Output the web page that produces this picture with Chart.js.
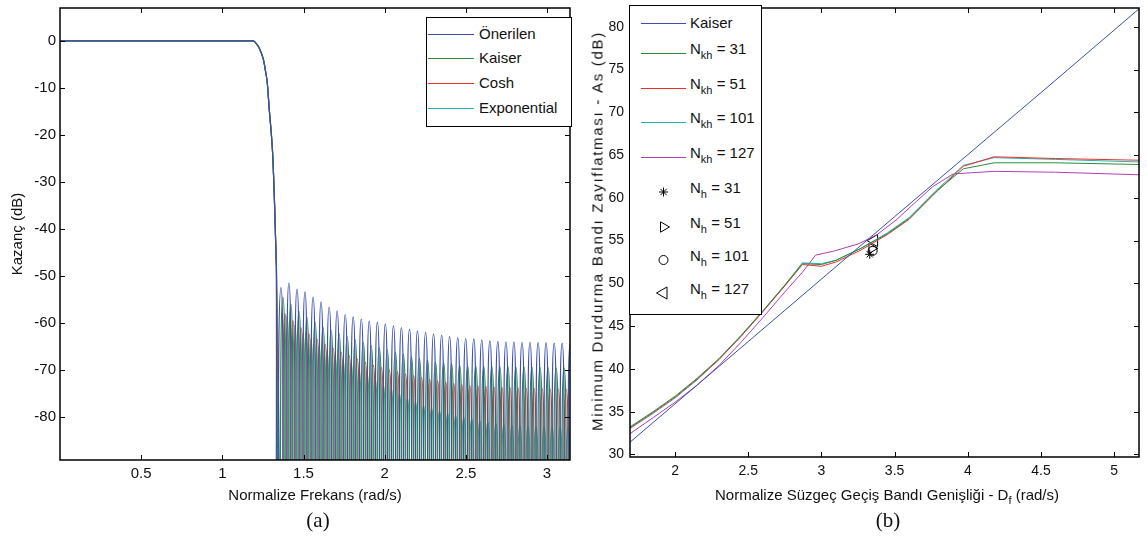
<!DOCTYPE html>
<html lang="tr">
<head>
<meta charset="utf-8">
<title>Süzgeç karşılaştırması</title>
<script src="https://cdn.jsdelivr.net/npm/chart.js@4.4.1/dist/chart.umd.min.js"></script>
<style>
  html, body { margin: 0; padding: 0; background: #fff; }
  #page { position: relative; width: 1147px; height: 543px; overflow: hidden;
          font-family: 'Liberation Sans', Arial, sans-serif; color: #111; }
  #chartA, #chartB { position: absolute; top: 0; }
  #chartA { left: 0; }
  #chartB { left: 580px; }
  .legend { position: absolute; background: #fff; border: 1px solid #000; box-sizing: border-box; }
  .legend canvas { position: absolute; }
  .legend span { position: absolute; font-size: 15px; line-height: 18px; white-space: nowrap; }
  .legend sub { font-size: 11px; vertical-align: -5px; line-height: 0; }
  #legendA { left: 426px; top: 17px; width: 146px; height: 110px; }
  #legendB { left: 629px; top: 5px; width: 133px; height: 310px; }
  .ytitle { position: absolute; left: 597px; top: 231px; font-size: 15px; letter-spacing: 1.7px;
            white-space: nowrap; transform: translate(-50%, -50%) rotate(-90deg); }
  .xtitle { position: absolute; left: 887px; top: 486px; font-size: 15px; white-space: nowrap;
            transform: translateX(-50%); }
  .xtitle sub { font-size: 11px; vertical-align: -4px; line-height: 0; }
  .caption { position: absolute; top: 508px; font-family: 'Liberation Serif', 'Times New Roman', serif;
             font-size: 21px; transform: translateX(-50%); }
</style>
</head>
<body>
<div id="page">
  <canvas id="chartA" width="580" height="520"></canvas>
  <canvas id="chartB" width="567" height="520"></canvas>
  <div id="legendA" class="legend"></div>
  <div id="legendB" class="legend"></div>
  <div class="ytitle">Minimum Durdurma Bandı Zayıflatması - As (dB)</div>
  <div class="xtitle">Normalize Süzgeç Geçiş Bandı Genişliği - D<sub>f</sub> (rad/s)</div>
  <div class="caption" style="left:318px">(a)</div>
  <div class="caption" style="left:888px">(b)</div>
</div>
<script>
// ---------- (a) genlik yanıtı ----------
const namesA = ['Önerilen', 'Kaiser', 'Cosh', 'Exponential'];
const xTicksA = [0.5, 1, 1.5, 2, 2.5, 3];
const yTicksA = [0, -10, -20, -30, -40, -50, -60, -70, -80];

// geçiş bandı (dört pencere neredeyse üst üste)
const transFreq = [0, 1.19, 1.205, 1.222, 1.238, 1.253, 1.265, 1.277, 1.29, 1.30, 1.31, 1.316, 1.322, 1.327, 1.333];
const transDb = [0, 0, -0.4, -1.2, -2.4, -4, -6.2, -9, -15, -19, -24, -29, -35, -41, -48];

// durdurma bandı frekans ızgaraları (yarım lob adımı)
const gridA = [1.336, 1.361, 1.386, 1.410, 1.435, 1.460, 1.485, 1.509, 1.534, 1.559,
  1.584, 1.608, 1.633, 1.658, 1.683, 1.707, 1.732, 1.757, 1.782, 1.806,
  1.831, 1.856, 1.881, 1.905, 1.930, 1.955, 1.980, 2.004, 2.029, 2.054,
  2.079, 2.103, 2.128, 2.153, 2.178, 2.202, 2.227, 2.252, 2.277, 2.301,
  2.326, 2.351, 2.376, 2.400, 2.425, 2.450, 2.475, 2.499, 2.524, 2.549,
  2.574, 2.598, 2.623, 2.648, 2.673, 2.697, 2.722, 2.747, 2.772, 2.796,
  2.821, 2.846, 2.871, 2.895, 2.920, 2.945, 2.970, 2.994, 3.019, 3.044,
  3.069, 3.093, 3.118, 3.143, 3.168];
const gridB = [1.348, 1.373, 1.398, 1.422, 1.447, 1.472, 1.497, 1.521, 1.546, 1.571,
  1.596, 1.620, 1.645, 1.670, 1.695, 1.719, 1.744, 1.769, 1.794, 1.818,
  1.843, 1.868, 1.893, 1.917, 1.942, 1.967, 1.992, 2.016, 2.041, 2.066,
  2.091, 2.115, 2.140, 2.165, 2.190, 2.214, 2.239, 2.264, 2.289, 2.313,
  2.338, 2.363, 2.388, 2.412, 2.437, 2.462, 2.487, 2.511, 2.536, 2.561,
  2.586, 2.610, 2.635, 2.660, 2.685, 2.709, 2.734, 2.759, 2.784, 2.808,
  2.833, 2.858, 2.883, 2.907, 2.932, 2.957, 2.982, 3.006, 3.031, 3.056,
  3.081, 3.105, 3.130, 3.155, 3.180];

// lob tepeleri (dB)
const peaksOnerilen = [-52.5, -51.5, -52.8, -53.4, -54.5, -55.5, -56.6, -57.4, -58.2, -58.7,
  -59.1, -59.6, -59.8, -60.2, -60.6, -61.0, -61.3, -61.7, -62.0, -62.3,
  -62.6, -62.9, -63.1, -63.3, -63.4, -63.6, -63.8, -63.9, -64.0, -64.0,
  -64.1, -64.1, -64.2, -64.2, -64.3, -64.3, -64.3];
const peaksKaiser = [-54.5, -56.0, -57.5, -58.8, -59.8, -60.8, -61.5, -62.2, -62.9, -63.6,
  -64.2, -64.8, -65.3, -65.7, -66.2, -66.7, -67.2, -67.6, -67.9, -68.3,
  -68.5, -68.7, -69.0, -69.1, -69.2, -69.3, -69.3, -69.3, -69.3, -69.4,
  -69.4, -69.4, -69.5, -69.5, -69.6, -69.6, -69.6];
const peaksCosh = [-58.0, -59.5, -61.0, -62.3, -63.5, -64.5, -65.4, -66.2, -67.0, -67.7,
  -68.4, -69.0, -69.5, -70.0, -70.4, -70.8, -71.2, -71.6, -72.0, -72.3,
  -72.6, -72.9, -73.1, -73.3, -73.4, -73.5, -73.6, -73.7, -73.8, -73.8,
  -73.9, -73.9, -74.0, -74.0, -74.1, -74.1, -74.1];
const peaksExp = [-58.5, -60.5, -62.2, -63.5, -64.8, -66.0, -67.0, -67.8, -68.6, -70.0,
  -71.0, -72.0, -73.2, -74.0, -75.0, -76.0, -76.8, -77.5, -78.1, -78.7,
  -79.2, -79.7, -80.1, -80.4, -80.8, -81.1, -81.4, -81.6, -81.8, -81.9,
  -82.0, -82.1, -82.1, -82.2, -82.2, -82.2, -82.2];
const nullDb = -120; // sıfır noktaları eksenin altında

// ---------- (b) durdurma bandı zayıflatması ----------
const dfKaiser = [1.69, 2.5, 3.5, 4.5, 5.17];
const asKaiser = [31.4, 43.2, 57.8, 72.3, 82.1];
const dfKh = [1.69, 1.85, 2.0, 2.15, 2.3, 2.45, 2.6, 2.75, 2.87, 3.0, 3.1, 3.27, 3.45, 3.6, 3.78, 3.97, 4.18, 4.6, 5.17];
const asKh31 = [33.2, 35.0, 36.8, 38.9, 41.2, 43.9, 46.8, 49.8, 52.3, 52.2, 52.7, 54.1, 55.8, 57.6, 60.7, 63.4, 64.1, 64.1, 63.9];
const asKh51 = [33.1, 34.9, 36.7, 38.8, 41.1, 43.8, 46.7, 49.7, 52.2, 52.0, 52.5, 53.9, 55.7, 57.5, 60.6, 63.7, 64.8, 64.6, 64.4];
const asKh101 = [33.0, 34.8, 36.6, 38.7, 41.1, 43.8, 46.7, 49.8, 52.4, 52.3, 52.7, 54.1, 55.9, 57.7, 60.8, 63.8, 64.7, 64.5, 64.2];
const dfKh127 = [1.69, 1.85, 2.0, 2.15, 2.3, 2.45, 2.6, 2.75, 2.87, 2.96, 3.09, 3.25, 3.38, 3.51, 3.65, 3.76, 3.90, 4.18, 4.6, 5.17];
const asKh127 = [32.4, 34.3, 36.1, 38.1, 40.4, 43.1, 46.0, 49.0, 51.3, 53.3, 53.8, 54.6, 55.7, 57.4, 59.6, 61.3, 62.8, 63.1, 63.0, 62.7];
const dfNh = [3.33, 3.345, 3.35, 3.36];
const asNh = [53.4, 54.1, 53.8, 55.0];
const xTicksB = [2, 2.5, 3, 3.5, 4, 4.5, 5];
const yTicksB = [30, 35, 40, 45, 50, 55, 60, 65, 70, 75, 80];

// renkler
const colBlue = '#3b4fae', colGreen = '#2b8a3f', colRed = '#ee2d2d', colCyan = '#22b2ad', colPurple = '#b23fb2';

Chart.defaults.font.family = "'Liberation Sans', Arial, sans-serif";
Chart.defaults.font.size = 15;
Chart.defaults.color = '#111';

// matlab tarzı çerçeve ve içe dönük çentikler
const boxTicks = {
  id: 'boxTicks',
  afterDatasetsDraw(chart) {
    const { ctx, chartArea: a, scales } = chart;
    const len = 5;
    ctx.save();
    ctx.strokeStyle = '#000';
    ctx.lineWidth = 1;
    ctx.beginPath();
    scales.x.ticks.forEach(t => {
      const px = Math.round(scales.x.getPixelForValue(t.value)) + 0.5;
      ctx.moveTo(px, a.bottom); ctx.lineTo(px, a.bottom - len);
      ctx.moveTo(px, a.top); ctx.lineTo(px, a.top + len);
    });
    scales.y.ticks.forEach(t => {
      const py = Math.round(scales.y.getPixelForValue(t.value)) + 0.5;
      ctx.moveTo(a.left, py); ctx.lineTo(a.left + len, py);
      ctx.moveTo(a.right, py); ctx.lineTo(a.right - len, py);
    });
    ctx.stroke();
    ctx.lineWidth = 1.5;
    ctx.strokeRect(a.left, a.top, a.right - a.left, a.bottom - a.top);
    ctx.restore();
  }
};

const pairs = (xs, ys) => xs.map((x, i) => ({ x: x, y: ys[i] }));

// lob dizisi: ızgaranın sırayla sıfır / tepe noktaları
function stopband(grid, peaks, first) {
  const pts = [];
  for (let i = first; i < grid.length; i++) {
    const k = i - first;
    pts.push({ x: grid[i], y: k % 2 === 0 ? nullDb : peaks[(k - 1) / 2] });
  }
  return pts;
}

const trans = pairs(transFreq, transDb);
const lastTrans = trans[trans.length - 1];
const seriesA = [
  { stop: stopband(gridA, peaksOnerilen, 0), color: colBlue },
  { stop: stopband(gridB, peaksKaiser, 0), color: colGreen },
  { stop: stopband(gridA, peaksCosh, 1), color: colRed },
  { stop: stopband(gridB, peaksExp, 1), color: colCyan }
];

// geçiş bandı monotone, durdurma bandı lobları yüksek gerilimli eğri
const datasetsA = [];
seriesA.forEach((s, i) => {
  datasetsA.push({ label: namesA[i], data: trans, borderColor: s.color, borderWidth: 1.2,
    pointRadius: 0, fill: false, cubicInterpolationMode: 'monotone' });
  datasetsA.push({ label: namesA[i], data: [lastTrans].concat(s.stop), borderColor: s.color, borderWidth: 1.2,
    pointRadius: 0, fill: false, tension: 1, capBezierPoints: false });
});

const noLabel = v => String(v);

new Chart(document.getElementById('chartA'), {
  type: 'line',
  data: { datasets: datasetsA },
  options: {
    animation: false, responsive: false, events: [],
    layout: { padding: { top: 8, right: 10, left: 0, bottom: 0 } },
    plugins: { legend: { display: false }, tooltip: { enabled: false } },
    scales: {
      x: {
        type: 'linear', min: 0, max: 3.1416,
        grid: { display: false, drawTicks: false }, border: { display: false },
        ticks: { padding: 5, callback: noLabel, maxRotation: 0 },
        afterBuildTicks: s => { s.ticks = xTicksA.map(v => ({ value: v })); },
        afterFit: s => { s.height = 60; s.paddingLeft = 0; s.paddingRight = 0; },
        title: { display: true, text: 'Normalize Frekans (rad/s)', padding: { top: 0, bottom: 15 } }
      },
      y: {
        type: 'linear', min: -89.15, max: 7.0,
        grid: { display: false, drawTicks: false }, border: { display: false },
        ticks: { padding: 4, callback: noLabel },
        afterBuildTicks: s => { s.ticks = yTicksA.map(v => ({ value: v })); },
        afterFit: s => { s.width = 60; s.paddingTop = 0; s.paddingBottom = 0; },
        title: { display: true, text: 'Kazanç (dB)', padding: { top: 9, bottom: 0 } }
      }
    }
  },
  plugins: [boxTicks]
});

const namesB = ['Kaiser', 'N<sub>kh</sub> = 31', 'N<sub>kh</sub> = 51', 'N<sub>kh</sub> = 101', 'N<sub>kh</sub> = 127',
  'N<sub>h</sub> = 31', 'N<sub>h</sub> = 51', 'N<sub>h</sub> = 101', 'N<sub>h</sub> = 127'];
const lineSetsB = [
  { data: pairs(dfKaiser, asKaiser), color: colBlue },
  { data: pairs(dfKh, asKh31), color: colGreen },
  { data: pairs(dfKh, asKh51), color: colRed },
  { data: pairs(dfKh, asKh101), color: colCyan },
  { data: pairs(dfKh127, asKh127), color: colPurple }
];
const markerStyles = [
  { pointStyle: 'star', rotation: 0, radius: 4.5 },
  { pointStyle: 'triangle', rotation: 90, radius: 6 },
  { pointStyle: 'circle', rotation: 0, radius: 4.5 },
  { pointStyle: 'triangle', rotation: -90, radius: 7 }
];

const datasetsB = lineSetsB.map((s, i) => ({
  label: namesB[i], data: s.data, borderColor: s.color, borderWidth: 1, pointRadius: 0, fill: false, tension: 0
})).concat(markerStyles.map((m, i) => ({
  label: namesB[5 + i], data: [{ x: dfNh[i], y: asNh[i] }], showLine: false,
  pointStyle: m.pointStyle, rotation: m.rotation, pointRadius: m.radius,
  borderColor: '#000', backgroundColor: 'rgba(0,0,0,0)', pointBorderWidth: 1
})));

new Chart(document.getElementById('chartB'), {
  type: 'line',
  data: { datasets: datasetsB },
  options: {
    animation: false, responsive: false, events: [],
    layout: { padding: { top: 5, right: 2, left: 0, bottom: 0 } },
    plugins: { legend: { display: false }, tooltip: { enabled: false } },
    scales: {
      x: {
        type: 'linear', min: 1.692, max: 5.17,
        grid: { display: false, drawTicks: false }, border: { display: false },
        ticks: { padding: 6, callback: noLabel, maxRotation: 0, font: { size: 14 } },
        afterBuildTicks: s => { s.ticks = xTicksB.map(v => ({ value: v })); },
        afterFit: s => { s.height = 63; s.paddingLeft = 0; s.paddingRight = 0; }
      },
      y: {
        type: 'linear', min: 29.7, max: 82.2,
        grid: { display: false, drawTicks: false }, border: { display: false },
        ticks: { padding: 6, callback: noLabel, font: { size: 14 } },
        afterBuildTicks: s => { s.ticks = yTicksB.map(v => ({ value: v })); },
        afterFit: s => { s.width = 50; s.paddingTop = 0; s.paddingBottom = 0; }
      }
    }
  },
  plugins: [boxTicks]
});

// ---------- HTML göstergeler ----------
function swatch(item, w) {
  const c = document.createElement('canvas');
  c.width = w; c.height = 20;
  const g = c.getContext('2d');
  g.strokeStyle = item.color;
  g.fillStyle = 'rgba(0,0,0,0)';
  g.lineWidth = 1;
  if (item.pointStyle) {
    Chart.helpers.drawPoint(g, { pointStyle: item.pointStyle, rotation: item.rotation, radius: item.radius, borderWidth: 1 }, w / 2, 10);
  } else {
    g.beginPath(); g.moveTo(0, 10.5); g.lineTo(w, 10.5); g.stroke();
  }
  return c;
}

function buildLegend(el, items, cfg) {
  items.forEach((it, i) => {
    const y = cfg.rowY[i];
    const c = swatch(it, cfg.swW);
    c.style.left = cfg.swX + 'px';
    c.style.top = (y - 10) + 'px';
    el.appendChild(c);
    const t = document.createElement('span');
    t.innerHTML = it.label;
    t.style.left = cfg.textX + 'px';
    t.style.top = (y - 9 + (it.label.indexOf('<sub>') >= 0 ? -4 : 0)) + 'px';
    el.appendChild(t);
  });
}

buildLegend(document.getElementById('legendA'),
  namesA.map((n, i) => ({ label: n, color: seriesA[i].color })),
  { rowY: [16, 40, 65, 90], swX: 1, swW: 46, textX: 52 });

buildLegend(document.getElementById('legendB'),
  namesB.map((n, i) => i < 5
    ? { label: n, color: lineSetsB[i].color }
    : Object.assign({ label: n, color: '#000' }, markerStyles[i - 5])),
  { rowY: [17, 47, 82, 116, 151, 186, 221, 254, 287], swX: 11, swW: 45, textX: 60 });
</script>
</body>
</html>
